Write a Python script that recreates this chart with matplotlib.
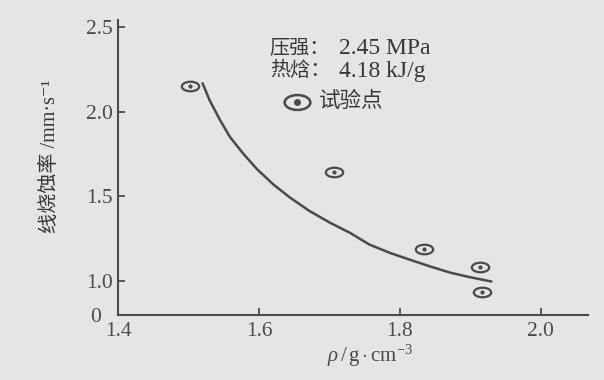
import matplotlib
matplotlib.use('Agg')
import matplotlib.pyplot as plt
from matplotlib.path import Path
from matplotlib.transforms import Affine2D

# measured points (density g/cm3, linear ablation rate mm/s)
rho_pts = [1.502, 1.706, 1.835, 1.914, 1.916]
rate_pts = [2.149, 1.643, 1.189, 1.082, 0.934]

# fitted curve
rho_fit = [1.520, 1.530, 1.545, 1.559, 1.578, 1.597, 1.620, 1.644, 1.672,
           1.701, 1.729, 1.757, 1.786, 1.814, 1.843, 1.871, 1.899, 1.930]
rate_fit = [2.167, 2.067, 1.948, 1.849, 1.750, 1.661, 1.571, 1.492, 1.412,
            1.343, 1.284, 1.214, 1.165, 1.125, 1.085, 1.049, 1.022, 0.996]

x_ticks = [1.4, 1.6, 1.8, 2.0]
x_labels = ['1.4', '1.6', '1.8', '2.0']
y_ticks = [1.0, 1.5, 2.0, 2.5]
y_labels = ['1.0', '1.5', '2.0', '2.5']

cond_names = ['压强：', '热焓：']
cond_values = ['2.45 MPa', '4.18 kJ/g']

BG = '#e5e5e3'
INK = '#4a4a4a'
TXT = '#383838'
FAMILY = ['Liberation Serif', 'DejaVu Serif', 'Noto Sans CJK SC']


def setup():
    from matplotlib import rcParams
    rcParams['font.family'] = FAMILY
    rcParams['axes.unicode_minus'] = False
    rcParams['mathtext.fontset'] = 'custom'
    rcParams['mathtext.rm'] = 'Liberation Serif'
    rcParams['mathtext.it'] = 'Liberation Serif:italic'
    rcParams['axes.linewidth'] = 1.5
    rcParams['axes.edgecolor'] = INK
    rcParams['xtick.direction'] = 'in'
    rcParams['ytick.direction'] = 'in'
    rcParams['xtick.color'] = INK
    rcParams['ytick.color'] = INK
    rcParams['xtick.labelsize'] = 15.5
    rcParams['ytick.labelsize'] = 15.5
    rcParams['xtick.major.size'] = 5
    rcParams['ytick.major.size'] = 5
    rcParams['xtick.major.width'] = 1.3
    rcParams['ytick.major.width'] = 1.3


def ring_marker(squash):
    circ = Path.unit_circle()
    return circ.transformed(Affine2D().scale(1.0, squash))


def main():
    setup()
    fig = plt.figure(figsize=(6.04, 3.80), dpi=100, facecolor=BG)
    ax = fig.add_axes([0.1954, 0.171, 0.778, 0.776])
    ax.set_facecolor(BG)

    y_bottom = 0.798
    ax.set_xlim(1.4, 2.067)
    ax.set_ylim(y_bottom, 2.54)
    for side in ('top', 'right'):
        ax.spines[side].set_visible(False)

    ax.set_xticks(x_ticks)
    ax.set_xticklabels(x_labels)
    ax.set_yticks([y_bottom] + y_ticks)
    ax.set_yticklabels(['0'] + y_labels)
    ax.tick_params(axis='x', pad=5, labelcolor=INK)
    ax.tick_params(axis='y', pad=4, labelcolor=INK)
    zero_tick = ax.yaxis.get_major_ticks()[0]
    zero_tick.tick1line.set_visible(False)
    zero_tick.set_pad(12)
    ax.xaxis.get_major_ticks()[0].tick1line.set_visible(False)

    ax.plot(rho_fit, rate_fit, '-', color=INK, lw=1.8,
            solid_capstyle='round', solid_joinstyle='round')

    ring = ring_marker(0.55)
    ax.plot(rho_pts, rate_pts, ls='none', marker=ring, ms=12.5, mfc='none',
            mec=INK, mew=1.6)
    ax.plot(rho_pts, rate_pts, ls='none', marker='o', ms=2.0, color=INK)

    # annotation block
    row_y = [0.905, 0.826]
    for name, val, yy in zip(cond_names, cond_values, row_y):
        ax.text(0.323, yy, name, transform=ax.transAxes, fontsize=14.5,
                color=TXT, va='center', ha='left')
        ax.text(0.470, yy, val, transform=ax.transAxes, fontsize=17,
                color=TXT, va='center', ha='left')
    ax.plot([0.381], [0.722], transform=ax.transAxes, ls='none',
            marker=ring_marker(0.58), ms=18.5, mfc='none', mec=INK, mew=1.8,
            clip_on=False)
    ax.plot([0.381], [0.722], transform=ax.transAxes, ls='none',
            marker='o', ms=4, color=INK, clip_on=False)
    ax.text(0.427, 0.722, '试验点', transform=ax.transAxes,
            fontsize=15.5, color=TXT, va='center', ha='left')

    fig.text(0.083, 0.59, '线烧蚀率 /mm·s⁻¹', rotation=90, fontsize=14.5,
             color=TXT, ha='center', va='center')
    fig.text(0.613, 0.063, r'$\rho\,/\,\mathrm{g\cdot cm^{-3}}$',
             fontsize=15, color=INK, ha='center', va='center')

    fig.savefig('out.png', dpi=100, facecolor=BG)
    plt.close(fig)


if __name__ == '__main__':
    main()
